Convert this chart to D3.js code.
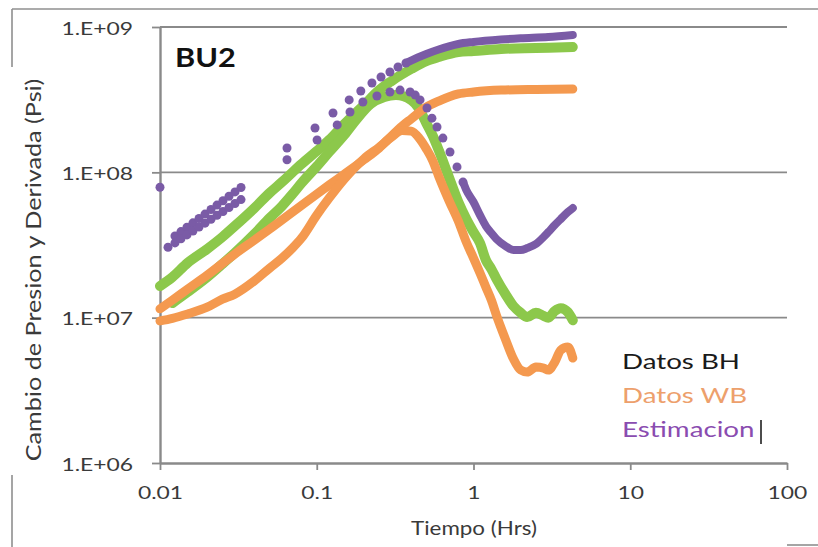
<!DOCTYPE html>
<html><head><meta charset="utf-8">
<script src="https://cdn.jsdelivr.net/npm/d3@7"></script>
<style>
html,body{margin:0;padding:0;background:#fff;}
svg{display:block;font-family:Lato,"Open Sans",sans-serif;}
</style></head>
<body>
<svg id="chart" width="818" height="547"></svg>
<script>
// ---------- data ----------
const xTicks = [0.01, 0.1, 1, 10, 100];
const xTickLabels = ["0.01", "0.1", "1", "10", "100"];
const yTicks = [1e6, 1e7, 1e8, 1e9];
const yTickLabels = ["1.E+06", "1.E+07", "1.E+08", "1.E+09"];
const legendNames = ["Datos BH", "Datos WB", "Estimacion"];

// Datos BH (green): pressure change and derivative [time hrs, psi]
const bhPressure = [[0.01,1.65e7],[0.012,1.90e7],[0.015,2.38e7],[0.02,2.97e7],[0.025,3.59e7],[0.03,4.27e7],[0.04,5.68e7],[0.05,7.21e7],[0.06,8.57e7],[0.07,1.00e8],[0.08,1.14e8],[0.1,1.40e8],[0.12,1.67e8],[0.15,2.15e8],[0.2,2.90e8],[0.25,3.68e8],[0.3,4.25e8],[0.4,5.14e8],[0.5,5.83e8],[0.6,6.22e8],[0.8,6.73e8],[1.0,6.84e8],[1.5,7.06e8],[2.5,7.17e8],[4.3,7.28e8]];
const bhDerivative = [[0.012,1.26e7],[0.015,1.50e7],[0.02,1.90e7],[0.025,2.34e7],[0.03,2.79e7],[0.04,3.76e7],[0.05,4.84e7],[0.06,5.86e7],[0.07,7.09e7],[0.08,8.44e7],[0.1,1.10e8],[0.12,1.38e8],[0.15,1.81e8],[0.18,2.33e8],[0.22,2.95e8],[0.27,3.30e8],[0.32,3.40e8],[0.4,3.15e8],[0.45,2.73e8],[0.5,2.18e8],[0.55,1.78e8],[0.6,1.42e8],[0.7,9.14e7],[0.8,6.25e7],[0.9,4.77e7],[1.0,3.88e7],[1.1,3.26e7],[1.2,2.49e7],[1.3,2.16e7],[1.4,1.85e7],[1.6,1.45e7],[1.8,1.20e7],[2.0,1.08e7],[2.2,1.01e7],[2.5,1.08e7],[2.8,1.03e7],[3.0,1.0e7],[3.3,1.11e7],[3.6,1.16e7],[4.0,1.09e7],[4.3,9.6e6]];

// Datos WB (orange)
const wbPressure = [[0.01,1.15e7],[0.012,1.32e7],[0.015,1.57e7],[0.02,1.96e7],[0.03,2.74e7],[0.04,3.42e7],[0.05,4.07e7],[0.07,5.33e7],[0.1,7.09e7],[0.12,8.18e7],[0.15,9.73e7],[0.2,1.22e8],[0.25,1.47e8],[0.3,1.78e8],[0.35,2.08e8],[0.4,2.33e8],[0.5,2.81e8],[0.6,3.09e8],[0.8,3.46e8],[1.0,3.57e8],[1.5,3.68e8],[2.5,3.72e8],[4.3,3.74e8]];
const wbDerivative = [[0.01,9.5e6],[0.012,9.9e6],[0.015,1.06e7],[0.02,1.18e7],[0.025,1.34e7],[0.03,1.45e7],[0.04,1.79e7],[0.05,2.19e7],[0.06,2.57e7],[0.07,3.01e7],[0.08,3.53e7],[0.1,5.08e7],[0.12,6.65e7],[0.15,9.0e7],[0.2,1.24e8],[0.25,1.49e8],[0.3,1.75e8],[0.35,1.94e8],[0.4,1.92e8],[0.45,1.72e8],[0.5,1.45e8],[0.55,1.20e8],[0.6,9.4e7],[0.7,6.34e7],[0.8,4.62e7],[0.9,3.31e7],[1.0,2.57e7],[1.1,2.03e7],[1.2,1.62e7],[1.3,1.32e7],[1.4,1.04e7],[1.6,7.1e6],[1.8,5.19e6],[2.0,4.36e6],[2.2,4.22e6],[2.5,4.57e6],[2.8,4.5e6],[3.0,4.36e6],[3.3,4.94e6],[3.6,5.98e6],[4.0,6.28e6],[4.3,5.27e6]];

// Estimacion (purple): sparse markers and dense part
const estPressureDots = [[0.01,7.9e7],[0.01246,3.65e7],[0.01361,3.91e7],[0.01486,4.19e7],[0.01623,4.49e7],[0.01774,4.81e7],[0.01937,5.16e7],[0.02116,5.55e7],[0.0231,5.95e7],[0.02523,6.38e7],[0.02756,6.84e7],[0.03009,7.33e7],[0.03287,7.86e7],[0.0646,1.47e8],[0.0975,2.02e8],[0.127,2.56e8],[0.161,3.15e8],[0.191,3.63e8],[0.225,4.12e8],[0.257,4.53e8],[0.293,4.90e8],[0.33,5.31e8],[0.371,5.65e8]];
const estPressure = [[0.371,5.65e8],[0.4,5.88e8],[0.5,6.52e8],[0.6,7.0e8],[0.8,7.64e8],[1.0,7.89e8],[1.5,8.2e8],[2.0,8.36e8],[3.0,8.53e8],[4.3,8.81e8]];
const estDerivativeDots = [[0.01125,3.05e7],[0.01246,3.27e7],[0.01361,3.49e7],[0.01486,3.71e7],[0.01623,3.95e7],[0.01774,4.20e7],[0.01937,4.47e7],[0.02116,4.75e7],[0.0231,5.06e7],[0.02523,5.38e7],[0.02756,5.73e7],[0.03009,6.10e7],[0.03287,6.49e7],[0.0646,1.22e8],[0.1005,1.67e8],[0.135,2.12e8],[0.163,2.60e8],[0.197,3.05e8],[0.242,3.35e8],[0.293,3.57e8],[0.34,3.68e8],[0.394,3.57e8],[0.425,3.4e8],[0.456,3.15e8],[0.505,2.77e8],[0.543,2.36e8],[0.585,2.05e8],[0.638,1.72e8],[0.708,1.38e8],[0.785,1.09e8],[0.857,8.57e7]];
const estDerivative = [[0.857,8.57e7],[0.9,7.55e7],[1.0,6.25e7],[1.1,5.08e7],[1.2,4.27e7],[1.3,3.82e7],[1.4,3.48e7],[1.6,3.11e7],[1.8,2.92e7],[2.0,2.92e7],[2.2,3.01e7],[2.5,3.21e7],[2.8,3.59e7],[3.0,3.88e7],[3.3,4.34e7],[3.6,4.77e7],[4.0,5.33e7],[4.3,5.68e7]];

// ---------- drawing ----------
const COL = {green:"#8cc84b", orange:"#f4994f", purple:"#7a5ba6", axis:"#8a8a8a", text:"#3a3a3a"};
const svg = d3.select("#chart");
const x = d3.scaleLog().domain([0.01, 100]).range([160, 787]);
const y = d3.scaleLog().domain([1e6, 1e9]).range([463, 27]);

// outer frame fragments
const frame = svg.append("g").attr("stroke", "#8f8f8f").attr("stroke-width", 1.6);
frame.append("line").attr("x1", 12).attr("y1", 9).attr("x2", 818).attr("y2", 9);
frame.append("line").attr("x1", 12).attr("y1", 9).attr("x2", 12).attr("y2", 67);
frame.append("line").attr("x1", 12).attr("y1", 475).attr("x2", 12).attr("y2", 547);
frame.append("line").attr("x1", 787).attr("y1", 545).attr("x2", 818).attr("y2", 545);

// gridlines
svg.append("g").selectAll("line").data(yTicks.slice(1)).join("line")
  .attr("x1", x(0.01)).attr("x2", x(100))
  .attr("y1", d => y(d)).attr("y2", d => y(d))
  .attr("stroke", COL.axis).attr("stroke-width", 1.8);

// axes
const yAxis = svg.append("g").attr("transform", `translate(${x(0.01)},0)`)
  .call(d3.axisLeft(y).tickValues(yTicks).tickFormat((d, i) => yTickLabels[i]).tickSize(8).tickSizeOuter(0));
const xAxis = svg.append("g").attr("transform", `translate(0,${y(1e6)})`)
  .call(d3.axisBottom(x).tickValues(xTicks).tickFormat((d, i) => xTickLabels[i]).tickSize(7).tickSizeOuter(0));
[yAxis, xAxis].forEach(g => {
  g.select(".domain").attr("stroke", COL.axis).attr("stroke-width", 2.4);
  g.selectAll(".tick line").attr("stroke", COL.axis).attr("stroke-width", 1.8);
  g.selectAll("text").attr("font-family", "Lato").attr("font-size", 18).attr("fill", COL.text);
});
yAxis.selectAll("text").attr("x", 0).attr("dy", null).attr("text-anchor", "end")
  .attr("transform", "translate(-27,7) scale(1.27,1)");
xAxis.selectAll("text").attr("y", 0).attr("dy", null).attr("text-anchor", "middle")
  .attr("transform", "translate(0,36) scale(1.27,1)");

// axis titles
svg.append("text").text("Tiempo (Hrs)")
  .attr("text-anchor", "middle").attr("font-size", 20).attr("fill", COL.text)
  .attr("transform", "translate(474,535) scale(1.12,1)");
svg.append("text").text("Cambio de Presion y Derivada (Psi)")
  .attr("text-anchor", "middle").attr("font-size", 21).attr("fill", COL.text)
  .attr("transform", "translate(41,270) rotate(-90) scale(1.2,1)");

// series lines
const line = d3.line().x(d => x(d[0])).y(d => y(d[1])).curve(d3.curveMonotoneX);
const series = [
  {data: bhPressure, color: COL.green, w: 10},
  {data: bhDerivative, color: COL.green, w: 10},
  {data: wbPressure, color: COL.orange, w: 9},
  {data: wbDerivative, color: COL.orange, w: 9},
  {data: estPressure, color: COL.purple, w: 8},
  {data: estDerivative, color: COL.purple, w: 8}
];
svg.append("g").selectAll("path").data(series).join("path")
  .attr("d", d => line(d.data)).attr("fill", "none")
  .attr("stroke", d => d.color).attr("stroke-width", d => d.w)
  .attr("stroke-linecap", "round").attr("stroke-linejoin", "round");

// purple sparse markers
svg.append("g").selectAll("circle").data(estPressureDots.concat(estDerivativeDots)).join("circle")
  .attr("cx", d => x(d[0])).attr("cy", d => y(d[1])).attr("r", 4.5)
  .attr("fill", COL.purple);

// BU2 label
svg.append("text").text("BU2").attr("font-weight", "bold").attr("font-size", 26).attr("fill", "#111")
  .attr("transform", "translate(175,67) scale(1.18,1)");

// legend text
const legColors = ["#1a1a1a", "#eda06c", "#8a4cb0"];
svg.append("g").selectAll("text").data(legendNames).join("text")
  .text(d => d).attr("font-size", 21).attr("fill", (d, i) => legColors[i])
  .attr("transform", (d, i) => `translate(622,${369 + i * 34}) scale(1.32,1)`);
svg.append("line").attr("x1", 761).attr("x2", 761).attr("y1", 420).attr("y2", 444)
  .attr("stroke", "#111").attr("stroke-width", 1.5);
</script>
</body></html>
